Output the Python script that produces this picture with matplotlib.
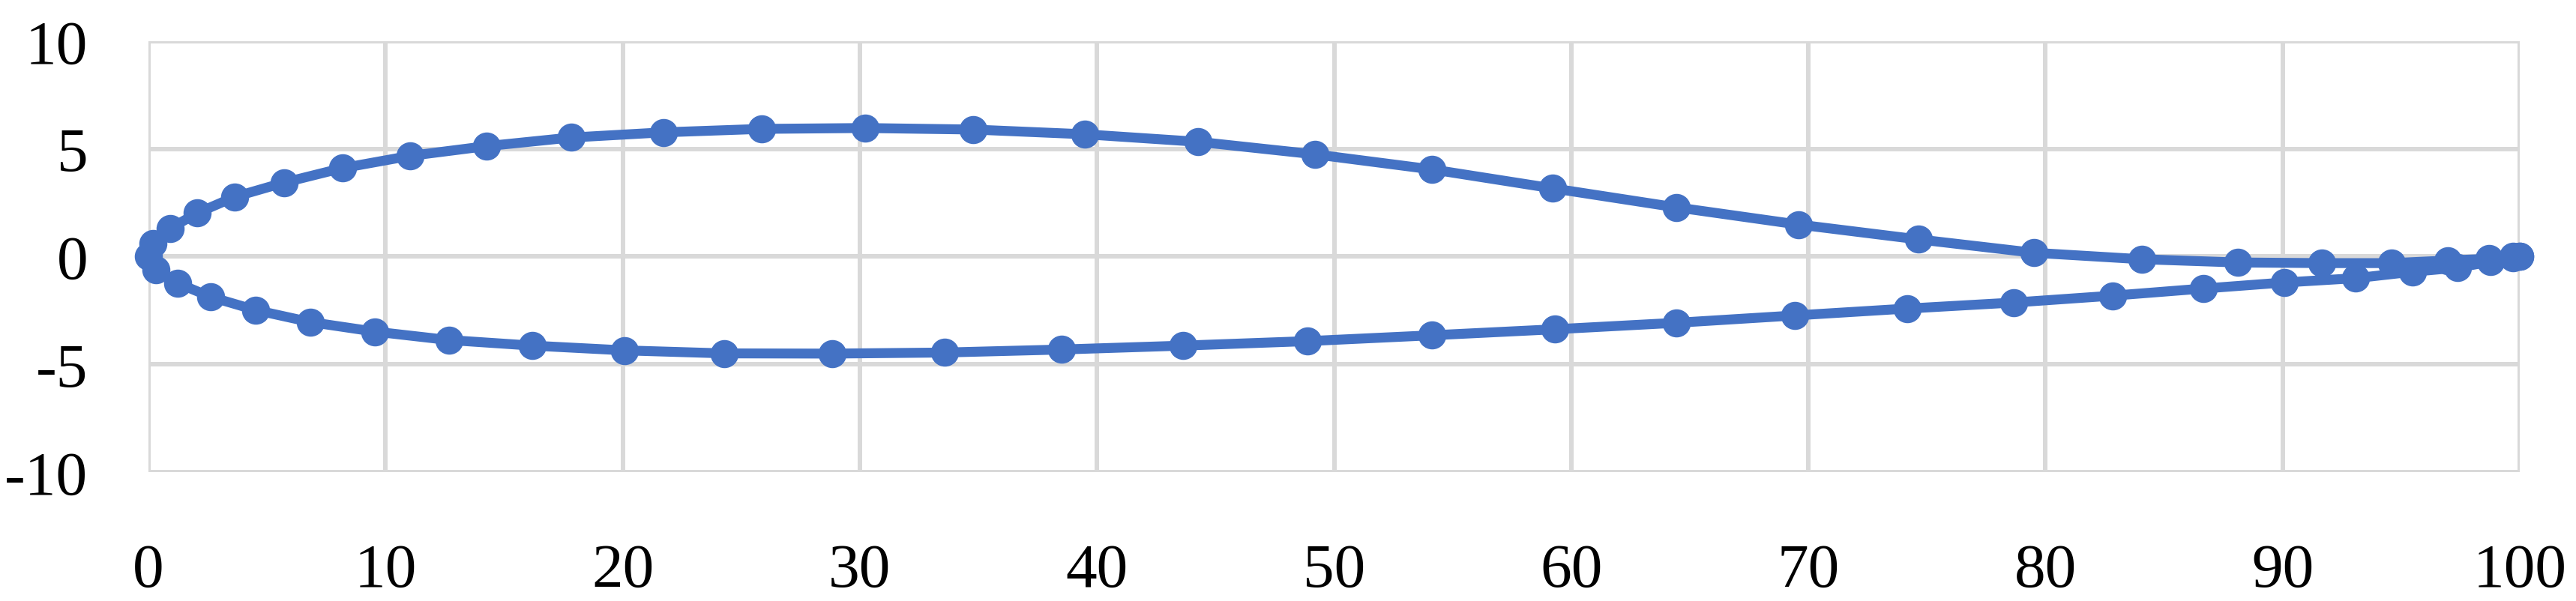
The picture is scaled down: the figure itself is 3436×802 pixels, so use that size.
import matplotlib
matplotlib.use("Agg")
import matplotlib.pyplot as plt
import numpy as np

# upper surface, trailing edge -> leading edge
x_upper = [100, 99.7, 98.7, 96.95, 94.6, 91.65, 88.1, 84.07, 79.5, 74.65,
           69.58, 64.42, 59.22, 54.12, 49.18, 44.27, 39.48, 34.77, 30.22, 25.87,
           21.73, 17.84, 14.27, 11.05, 8.18, 5.73, 3.65, 2.07, 0.93, 0.2, 0]
y_upper = [0, 0.0, -0.1, -0.18, -0.3, -0.3, -0.27, -0.12, 0.18, 0.8,
           1.49, 2.29, 3.17, 4.05, 4.75, 5.33, 5.68, 5.9, 5.97, 5.93,
           5.77, 5.53, 5.13, 4.68, 4.11, 3.44, 2.78, 2.03, 1.32, 0.62, 0]

# lower surface, leading edge -> trailing edge
x_lower = [0.33, 1.23, 2.63, 4.52, 6.84, 9.55, 12.67, 16.2, 20.07, 24.29,
           28.82, 33.57, 38.51, 43.62, 48.89, 54.12, 59.31, 64.43, 69.42, 74.16,
           78.66, 82.84, 86.66, 90.06, 93.07, 95.49, 97.39, 98.76, 99.7, 100]
y_lower = [-0.61, -1.23, -1.87, -2.48, -3.04, -3.48, -3.87, -4.13, -4.35, -4.49,
           -4.5, -4.45, -4.31, -4.13, -3.92, -3.65, -3.37, -3.07, -2.73, -2.41,
           -2.13, -1.81, -1.48, -1.2, -1.0, -0.7, -0.51, -0.23, -0.05, 0]

x_ticks = list(range(0, 101, 10))
y_ticks = [-10, -5, 0, 5, 10]

plt.rcParams['font.family'] = ['Liberation Serif', 'DejaVu Serif']
plt.rcParams['axes.unicode_minus'] = False

fig = plt.figure(figsize=(34.37, 8.03), dpi=100)
ax = fig.add_axes([0.0576, 0.2142, 0.9203, 0.7161])

grid_c = '#D9D9D9'
axis_c = '#BFBFBF'
lw = 4.3

ax.set_xlim(0, 100)
ax.set_ylim(-10, 10)
ax.set_xticks(x_ticks)
ax.set_yticks(y_ticks)
ax.grid(True, color=grid_c, linewidth=lw, zorder=0)
ax.axhline(0, color=axis_c, linewidth=lw, zorder=1)
ax.axvline(0, color=axis_c, linewidth=lw, zorder=1)
for s in ax.spines.values():
    s.set_visible(False)
ax.tick_params(length=0, labelsize=60)
ax.tick_params(axis='x', pad=68)
ax.tick_params(axis='y', pad=58)

x_all = np.array(x_upper + x_lower)
y_all = np.array(y_upper + y_lower)
ax.plot(x_all, y_all, color='#4472C4', linewidth=9.5, marker='o',
        markersize=26, zorder=3, clip_on=False)

fig.savefig('out.png', dpi=100)
